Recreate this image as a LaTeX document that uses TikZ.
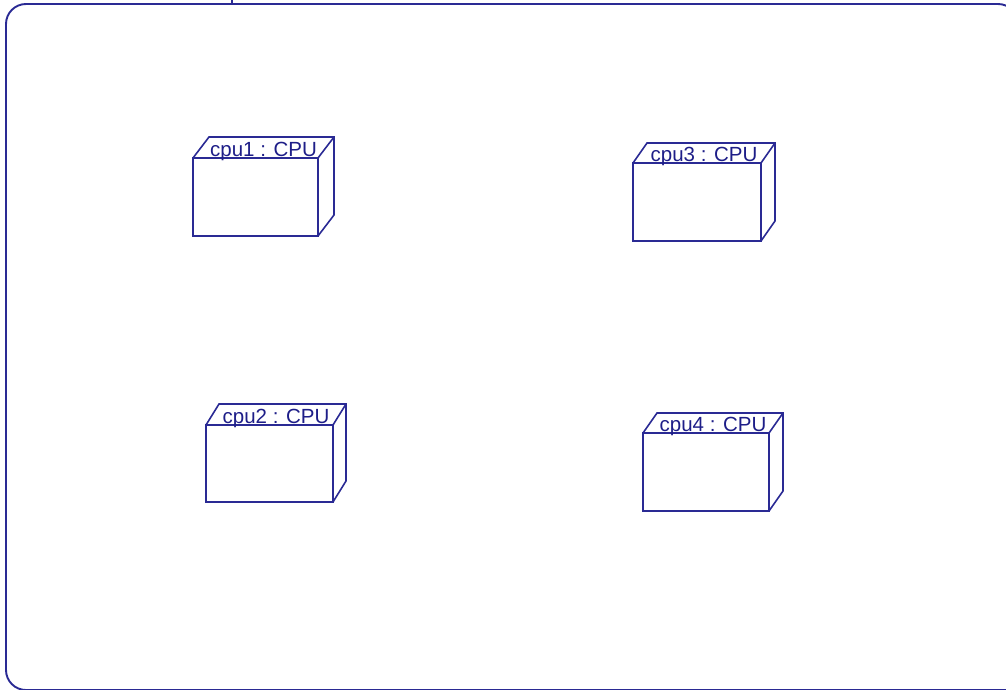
\documentclass[tikz,border=0pt]{standalone}
\usepackage{fontspec}
\usepackage{tikz}
\usetikzlibrary{calc}
\newfontfamily\umlfont{Liberation Sans}
\definecolor{umlink}{HTML}{1E1E88}
\definecolor{umlline}{HTML}{2A2A94}

\begin{document}
\begin{tikzpicture}[x=1pt, y=-1pt,
  frame/.style={draw=umlline, line width=1.9pt, rounded corners=20pt},
  front/.style={draw=umlline, line width=1.6pt, fill=white, inner sep=0pt, outer sep=0pt, anchor=north west},
  edge/.style={draw=umlline, line width=1.6pt, line join=miter},
  lbl/.style={text=umlink, inner sep=0pt, anchor=base, font=\umlfont\fontsize{20.5}{23}\selectfont}]
  \useasboundingbox (0,0) rectangle (1006,690);
  % ---- deployment frame ----
  \draw[frame] (1018,30) -- (1018,4) -- (6,4) -- (6,690) -- (1030,690);
  \coordinate (tabtop) at (232,0);
  \coordinate (tabbot) at (232,4);
  \draw[edge] (tabtop) -- (tabbot);
  % ---- cpu nodes ----
  \foreach \n/\x/\y/\w/\h/\dx/\dy in {cpu1/193/158/125/78/16/21, cpu3/633/163/128/78/14/20, cpu2/206/425/127/77/13/21, cpu4/643/433/126/78/14/20} {
    \node[front, minimum width=\w pt, minimum height=\h pt] (\n) at (\x,\y) {};
    \draw[edge] (\n.north west) -- ++(\dx,-\dy) -- ++(\w,0) -- ++(0,\h) -- (\n.south east);
    \draw[edge] (\n.north east) -- ++(\dx,-\dy);
    \node[lbl] (\n-lbl) at ($(\n.north)+(\dx/2,-2)$) {\n\ : CPU};
  }
\end{tikzpicture}
\end{document}
